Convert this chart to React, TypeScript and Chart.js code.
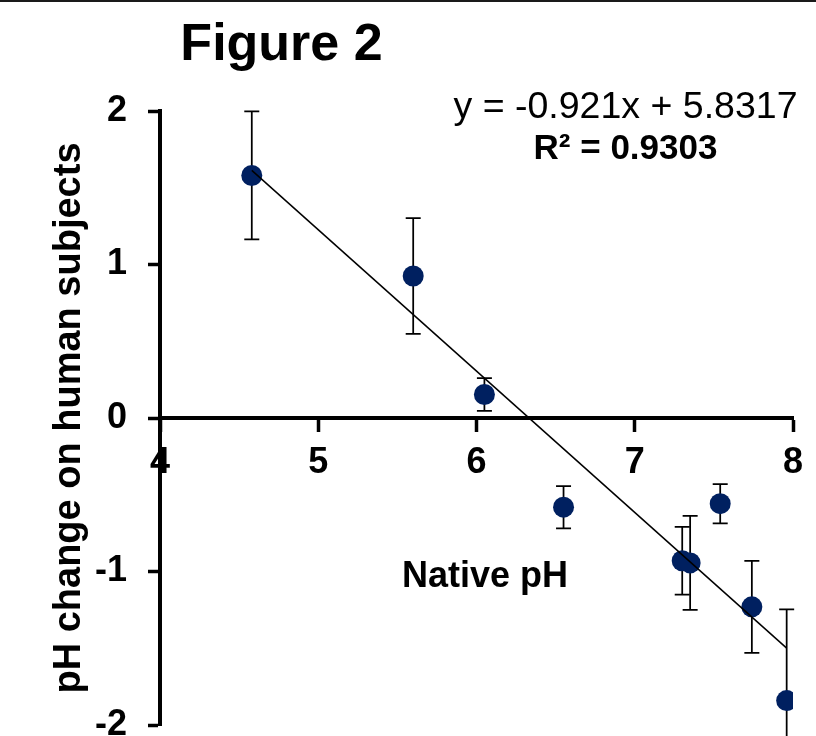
import React, { useEffect, useRef } from "react";
import { Chart, registerables } from "chart.js";

Chart.register(...registerables);

// ---- data ----
const nativePH = [4.58, 5.6, 6.05, 6.55, 7.3, 7.35, 7.54, 7.74, 7.96];
const phChange = [1.58, 0.925, 0.153, -0.581, -0.93, -0.944, -0.558, -1.23, -1.841];
const phError = [0.417, 0.377, 0.107, 0.138, 0.22, 0.306, 0.128, 0.3, 0.595];

const trendX = [4.58, 7.96];
const trendY = [1.613, -1.499];

const xTickValues = [4, 5, 6, 7, 8];
const yTickValues = [-2, -1, 0, 1, 2];

const titleText = "Figure 2";
const equationText = "y = -0.921x + 5.8317";
const r2Text = "R² = 0.9303";
const xTitleText = "Native pH";
const yTitleText = "pH change on human subjects";

const FONT = "'Liberation Sans', Arial, sans-serif";
const MARKER = "#002060";

const errorBarPlugin = {
  id: "errorBars",
  beforeDatasetsDraw(chart: any) {
    const { ctx, scales } = chart;
    const xs = scales.x;
    const ys = scales.y;
    ctx.save();
    ctx.strokeStyle = "#000";
    ctx.lineWidth = 1.75;
    for (let i = 0; i < nativePH.length; i++) {
      const px = xs.getPixelForValue(nativePH[i]);
      const top = ys.getPixelForValue(phChange[i] + phError[i]);
      const bot = ys.getPixelForValue(phChange[i] - phError[i]);
      ctx.beginPath();
      ctx.moveTo(px, top);
      ctx.lineTo(px, bot);
      ctx.moveTo(px - 7.5, top);
      ctx.lineTo(px + 7.5, top);
      ctx.moveTo(px - 7.5, bot);
      ctx.lineTo(px + 7.5, bot);
      ctx.stroke();
    }
    ctx.restore();
  },
};

const textPlugin = {
  id: "freeText",
  afterDraw(chart: any) {
    const { ctx } = chart;
    ctx.save();
    ctx.fillStyle = "#1a1a1a";
    ctx.fillRect(0, 0, chart.width, 2);
    ctx.fillStyle = "#000";
    ctx.textAlign = "center";
    ctx.textBaseline = "alphabetic";
    ctx.font = `bold 52px ${FONT}`;
    ctx.fillText(titleText, 281.5, 60);
    ctx.font = `37.5px ${FONT}`;
    ctx.fillText(equationText, 625.5, 118);
    ctx.font = `bold 35px ${FONT}`;
    ctx.fillText(r2Text, 625.5, 159);
    ctx.font = `bold 36px ${FONT}`;
    ctx.fillText(xTitleText, 485, 587);
    ctx.restore();
  },
};

export default function App() {
  const ref = useRef<HTMLCanvasElement | null>(null);

  useEffect(() => {
    if (!ref.current) return;
    const points = nativePH.map((x, i) => ({ x, y: phChange[i] }));
    const trend = trendX.map((x, i) => ({ x, y: trendY[i] }));
    const tickFont = { family: FONT, size: 36, weight: "bold" as const };

    const chart = new Chart(ref.current, {
      type: "scatter",
      data: {
        datasets: [
          {
            type: "line",
            label: "Linear fit",
            data: trend,
            borderColor: "#000",
            borderWidth: 1.5,
            pointRadius: 0,
            fill: false,
            showLine: true,
            order: 0,
          } as any,
          {
            type: "scatter",
            label: "pH change",
            data: points,
            backgroundColor: MARKER,
            borderColor: MARKER,
            borderWidth: 0,
            pointRadius: 10.5,
            order: 1,
          },
        ],
      },
      options: {
        animation: false,
        responsive: false,
        devicePixelRatio: 1,
        layout: { padding: { left: 0, top: 111, right: 23, bottom: 11 } },
        plugins: {
          legend: { display: false },
          tooltip: { enabled: false },
          title: { display: false },
        },
        scales: {
          x: {
            type: "linear",
            min: 4,
            max: 8,
            position: { y: 0 } as any,
            afterBuildTicks: (s: any) => {
              s.ticks = xTickValues.map((v) => ({ value: v }));
            },
            ticks: { color: "#000", font: tickFont, padding: 11 },
            grid: {
              drawOnChartArea: false,
              drawTicks: true,
              tickLength: 12,
              tickWidth: 3.5,
              tickColor: "#000",
            },
            border: { display: true, color: "#000", width: 4 },
            afterFit: (s: any) => {
              s.paddingLeft = 0;
              s.paddingRight = 0;
              s.paddingTop = 0;
              s.paddingBottom = 0;
            },
          },
          y: {
            type: "linear",
            min: -2,
            max: 2,
            position: "left",
            afterBuildTicks: (s: any) => {
              s.ticks = yTickValues.map((v) => ({ value: v }));
            },
            ticks: { color: "#000", font: tickFont, padding: 21 },
            grid: {
              drawOnChartArea: false,
              drawTicks: true,
              tickLength: 12,
              tickWidth: 3.5,
              tickColor: "#000",
            },
            border: { display: true, color: "#000", width: 4 },
            title: {
              display: true,
              text: yTitleText,
              color: "#000",
              font: { family: FONT, size: 38, weight: "bold" },
              padding: { top: 47, bottom: 0 },
            },
            afterFit: (s: any) => {
              s.width = 160;
              s.paddingTop = 0;
              s.paddingBottom = 0;
            },
          },
        },
      },
      plugins: [errorBarPlugin, textPlugin],
    });
    return () => chart.destroy();
  }, []);

  return (
    <div style={{ position: "absolute", left: 0, top: 0, width: 816, height: 736, background: "#fff" }}>
      <canvas ref={ref} width={816} height={736} style={{ display: "block" }} />
    </div>
  );
}
